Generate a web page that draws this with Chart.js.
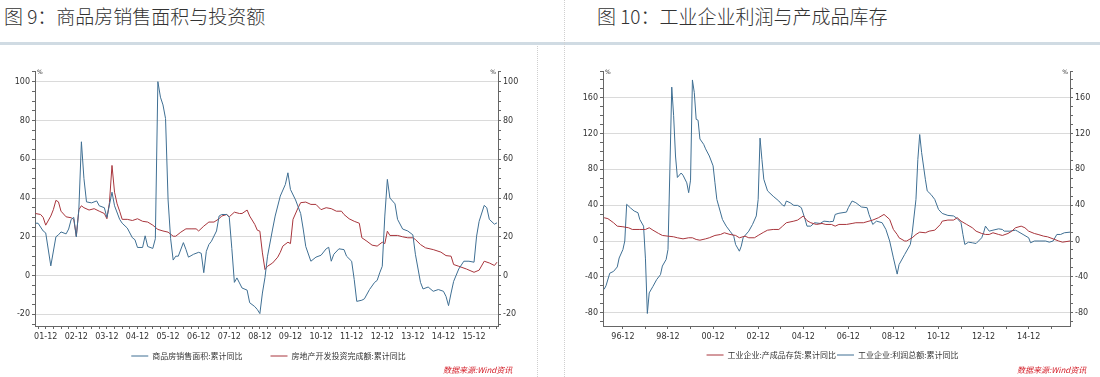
<!DOCTYPE html>
<html>
<head>
<meta charset="utf-8">
<script src="https://cdn.jsdelivr.net/npm/chart.js@4.4.1/dist/chart.umd.min.js"></script>
<style>
body { margin: 0; width: 1100px; height: 377px; background: #fff; position: relative; overflow: hidden; font-family: "Noto Sans CJK SC", sans-serif; }
.title { position: absolute; top: 2px; font-size: 19px; color: #333; font-weight: 300; white-space: nowrap; }
.rule { position: absolute; left: 0; top: 42px; width: 1100px; height: 3px; background: #d0dbe3; }
.dots { position: absolute; width: 0; border-left: 1px dotted #cfcfcf; }
.box { position: absolute; top: 50px; }
.src { position: absolute; top: 364px; font-size: 8px; font-style: italic; color: #d4202a; white-space: nowrap; }
</style>
</head>
<body>
<div class="title" style="left:4px">图 9：商品房销售面积与投资额</div>
<div class="title" style="left:597px">图 10：工业企业利润与产成品库存</div>
<div class="rule"></div>
<div class="dots" style="left:537px;top:46px;height:331px"></div>
<div class="dots" style="left:564px;top:0;height:377px"></div>
<div class="box" style="left:0"><canvas id="chart9" width="537" height="327"></canvas></div>
<div class="box" style="left:565px"><canvas id="chart10" width="535" height="327"></canvas></div>
<div class="src" style="left:443px">数据来源:Wind资讯</div>
<div class="src" style="left:1017px">数据来源:Wind资讯</div>

<script>
// ---------------------------------------------
// Figure 9: months counted from Dec 2001 (0 = 01-12)
// ---------------------------------------------
const salesMonths = [
  -4, -3, -1, 0, 2, 4, 5, 6, 8, 9,
  10, 11, 12, 13, 14, 15, 16, 18, 20, 21,
  23, 24, 26, 27, 29, 30, 32, 34, 35, 36,
  38, 39, 40, 42, 43, 44, 45, 46, 47, 48,
  49, 50, 51, 52, 54, 55, 56, 58, 60, 61,
  62, 63, 64, 65, 67, 68, 69, 71, 72, 73,
  74, 75, 76, 77, 79, 80, 82, 83, 84, 85,
  86, 87, 89, 90, 92, 94, 95, 96, 98, 100,
  101, 102, 104, 106, 108, 110, 111, 112, 113, 115,
  117, 118, 120, 121, 122, 124, 125, 127, 129, 130,
  131, 132, 133, 134, 135, 137, 138, 140, 142, 144,
  145, 147, 148, 150, 152, 154, 156, 157, 158, 159,
  160, 162, 164, 166, 168, 169, 170, 172, 173, 174,
  176, 177
];
const salesValues = [
  27, 27, 23, 22, 5, 20, 21, 22.5, 21.5, 24,
  29, 30, 20, 34, 69, 50, 38, 37.5, 38.5, 36,
  35, 30, 43, 36, 29, 27, 24.5, 19.5, 18.5, 14.5,
  14.5, 20.5, 15, 14, 19, 100, 92, 88, 81, 39,
  19, 8, 10, 10, 17, 13.5, 9.5, 11, 12, 11.5,
  1.5, 12.5, 16, 17.7, 23, 30.7, 31.5, 31.5, 30, 14,
  -3.5, -1.2, -3.8, -6.4, -7.5, -14, -16, -17.5, -19.6, -9,
  -1, 10, 24, 30.7, 41, 47, 53, 44.4, 39, 32,
  24, 15, 7.4, 9.5, 10.5, 13.8, 14.6, 7.4, 11, 13.8,
  13.4, 10, 7.4, -2, -13.3, -12.7, -12, -7.2, -3.5, -2.5,
  1.4, 4.8, 30.7, 49.6, 40, 37, 29, 24, 23, 21,
  11, -3.5, -6.9, -5.9, -8.1, -7.2, -8.1, -10.7, -15.5, -9,
  -3, 3.4, 7.4, 7.4, 6.9, 20.3, 28, 36.2, 35, 29,
  26.5, 27.2
];
const investMonths = [
  -4, -2, -1, 0, 2, 3, 4, 5, 6, 8,
  10, 11, 12, 13, 14, 15, 17, 19, 21, 23,
  24, 25, 26, 27, 28, 29, 30, 32, 34, 36,
  38, 40, 42, 44, 46, 48, 50, 51, 53, 55,
  57, 59, 60, 62, 64, 66, 68, 69, 71, 72,
  74, 76, 77, 79, 80, 82, 83, 84, 85, 86,
  87, 89, 91, 92, 93, 95, 96, 97, 99, 100,
  102, 104, 106, 108, 110, 112, 114, 116, 117, 119,
  121, 123, 124, 126, 128, 130, 132, 133, 134, 135,
  138, 140, 142, 144, 145, 147, 149, 152, 155, 157,
  159, 160, 162, 165, 168, 170, 172, 174, 176, 177
];
const investValues = [
  32, 31.5, 30, 26, 30.7, 34, 38.8, 38, 33.2, 30.3,
  29.8, 29, 20.3, 34, 36, 35, 33.8, 34.5, 33.2, 32,
  29.3, 37.6, 56.8, 43, 37, 33.2, 29, 29, 28.4, 29.3,
  28, 27.6, 26, 23.8, 23, 22.4, 20.3, 20.3, 22.4, 24.1,
  24.1, 24.1, 23, 25.5, 27.6, 27.6, 29.3, 30.7, 31.5, 30.3,
  32.7, 32, 32, 33.8, 30.7, 26.4, 23.4, 22.9, 11.7, 3.1,
  4.8, 6.5, 9.5, 12, 15.2, 17.2, 16.5, 29, 35, 37.6,
  37.9, 36.7, 36.7, 34, 35, 34.5, 33.2, 33.2, 31.5, 29.3,
  28, 27, 19.5, 17.7, 15.7, 15.2, 17.2, 16.5, 22.9, 20.7,
  20.7, 20, 19.5, 19.5, 18.6, 16, 14.3, 13.4, 12.1, 10.3,
  10, 5.7, 4.8, 3.4, 1.7, 2.8, 7.4, 6.5, 5.2, 6.9
];
const fig9YLabels = [-20, 0, 20, 40, 60, 80, 100];

// ---------------------------------------------
// Figure 10: months counted from Dec 1996 (0 = 96-12)
// ---------------------------------------------
const profitMonths = [
  -10, -9, -7, -5, -3, -2, 0, 1, 2, 4,
  6, 8, 9, 11, 12, 13, 14, 16, 18, 20,
  21, 23, 24, 25, 26, 27, 28, 29, 31, 32,
  34, 35, 36, 37, 38, 39, 40, 41, 43, 44,
  46, 48, 49, 50, 51, 53, 55, 57, 59, 60,
  62, 63, 64, 67, 69, 71, 72, 73, 74, 75,
  77, 80, 83, 85, 86, 87, 89, 91, 93, 95,
  97, 98, 100, 102, 105, 107, 110, 112, 113, 115,
  119, 120, 122, 124, 127, 130, 131, 133, 135, 138,
  140, 142, 144, 146, 147, 150, 153, 154, 156, 157,
  158, 159, 161, 162, 164, 166, 168, 170, 173, 176,
  178, 180, 181, 182, 184, 186, 188, 191, 192, 193,
  195, 197, 200, 202, 203, 206, 209, 210, 213, 216,
  217, 219, 222, 225, 227, 229, 231, 233, 235, 238
];
const profitValues = [
  -54, -50, -36, -34, -29, -19, -9.5, 0, 41, 37,
  33.5, 31.6, 24, 16.6, -20, -81, -58, -50.7, -43, -37.6,
  -28, -20.7, -9.5, 80, 172, 140, 95, 71, 76, 73.5,
  65, 54, 68, 180, 166, 136, 135, 114, 108, 103,
  95, 84, 65, 46.5, 39, 24, 16.6, 11, 5.4, -4,
  -11.4, -5.8, 3.6, 11, 18.5, 28, 46.5, 115, 91, 69,
  56, 50, 44.7, 40, 39, 44.7, 42.8, 39.8, 39.8, 37.2,
  24, 16.6, 16.6, 20.4, 19.6, 22.2, 21.5, 22, 29.7, 31,
  32.3, 37.2, 44.7, 42.8, 38, 37.2, 29.7, 18.5, 22.2, 20.4,
  12.9, 0, -18.9, -37, -26.4, -15, -3.9, 9.2, 46.5, 91,
  119, 99, 69, 56, 52, 46.5, 35.3, 30.8, 28.6, 28,
  25, 20.4, 7.3, -3.9, -1.3, -2, -2.8, 3.6, 9.2, 16.6,
  11, 12.1, 13.6, 12.9, 11, 11, 12.1, 11, 7.3, 3.6,
  -2, 0, 0, 0, -1.3, 0, 7.3, 7.3, 9.2, 9.9
];
const stockMonths = [
  -10, -8, -5, -3, 0, 3, 5, 9, 12, 14,
  16, 19, 21, 24, 27, 29, 32, 35, 37, 39,
  41, 44, 46, 49, 52, 54, 57, 60, 62, 65,
  67, 70, 72, 75, 77, 80, 83, 85, 87, 91,
  93, 96, 98, 100, 103, 106, 108, 111, 113, 115,
  119, 122, 124, 128, 131, 133, 136, 139, 140, 142,
  144, 146, 147, 150, 151, 154, 156, 158, 161, 163,
  166, 169, 170, 173, 176, 178, 180, 183, 186, 188,
  191, 193, 195, 197, 200, 202, 205, 207, 209, 212,
  214, 216, 219, 221, 224, 226, 229, 232, 234, 238
];
const stockValues = [
  26, 25, 20.4, 16.6, 15.9, 14.8, 12.9, 12.9, 12.9, 14.8,
  12.1, 8.4, 6.2, 5.4, 4.7, 3.6, 2.4, 3.6, 3.6, 1.7,
  0.9, 2.4, 3.6, 6.2, 7.3, 9.2, 7.3, 6.2, 3.6, 5.4,
  3.6, 3.6, 6.2, 9.9, 12.1, 12.9, 12.9, 16.6, 20.4, 22.2,
  23.4, 27.9, 22.8, 20.4, 18.5, 19.6, 18.5, 18.5, 16.6, 18.5,
  18.5, 19.6, 20.4, 20.4, 22.2, 23.4, 26, 29.7, 27.9, 24.1,
  12.9, 7.3, 3.6, 0, 0, 3.6, 7.3, 9.9, 9.2, 11,
  12.1, 18.5, 22.2, 23.4, 23.4, 26, 22.2, 18.5, 14.8, 11,
  8.4, 7.3, 7.3, 9.2, 7.3, 6.2, 8.4, 11, 14.8, 16.6,
  14.8, 11, 8.4, 7.3, 5.4, 4.7, 2.4, 0, -1.3, 0
];
const fig10YLabels = [-80, -40, 0, 40, 80, 120, 160];

const BLUE = '#3f6f93';
const RED = '#a8353c';
const AXIS = '#666';
const GRID = '#dadada';
const tickFont = { family: '"DejaVu Sans"', size: 8 };
const cjkFont = { family: '"Noto Sans CJK SC"', size: 8 };

function toPoints(months, values) {
  return months.map((m, i) => ({ x: m, y: values[i] }));
}

// '01-12' style label for an offset in months from a base year/month
function ym(baseYear, baseMonth, offset) {
  const t = baseYear * 12 + baseMonth - 1 + offset;
  const y = Math.floor(t / 12), m = t % 12 + 1;
  return String(y % 100).padStart(2, '0') + '-' + String(m).padStart(2, '0');
}

function range(from, to, step) {
  const out = [];
  for (let v = from; v <= to; v += step) out.push(v);
  return out;
}

// small % mark on top of both value axes
const unitMark = {
  id: 'unitMark',
  afterDraw(chart) {
    const { ctx, chartArea: a } = chart;
    ctx.save();
    ctx.fillStyle = '#333';
    ctx.font = '6px "DejaVu Sans"';
    ctx.textBaseline = 'middle';
    ctx.textAlign = 'left';
    ctx.fillText('%', a.left + 2, a.top + 1);
    ctx.textAlign = 'right';
    ctx.fillText('%', a.right - 2, a.top + 1);
    ctx.restore();
  }
};

function makeChart(id, c) {
  const yAxis = (pos, width) => ({
    type: 'linear',
    position: pos,
    min: c.yMin,
    max: c.yMax,
    afterBuildTicks: sc => { sc.ticks = c.yTicks.map(v => ({ value: v })); },
    afterFit: sc => { sc.width = width; },
    border: { color: AXIS },
    grid: {
      drawOnChartArea: pos === 'left',
      color: ctx => c.yLabels.includes(ctx.tick.value) ? GRID : 'rgba(0,0,0,0)',
      tickColor: AXIS,
      tickLength: 3
    },
    ticks: {
      autoSkip: false,
      padding: 2,
      color: '#333',
      font: tickFont,
      callback: v => c.yLabels.includes(v) ? String(v) : ''
    }
  });

  return new Chart(document.getElementById(id), {
    type: 'line',
    data: {
      datasets: c.series.map(s => ({
        label: s.label,
        data: toPoints(s.months, s.values),
        borderColor: s.color,
        backgroundColor: s.color,
        borderWidth: 1,
        pointRadius: 0,
        pointStyle: 'line',
        tension: 0
      }))
    },
    options: {
      responsive: false,
      animation: false,
      layout: { padding: { left: 0, right: 0, top: 21, bottom: c.bottomPad } },
      scales: {
        x: {
          type: 'linear',
          min: c.xMin,
          max: c.xMax,
          afterBuildTicks: sc => { sc.ticks = c.xTicks.map(v => ({ value: v })); },
          afterFit: sc => { sc.height = c.xAxisHeight; },
          border: { color: AXIS },
          grid: { drawOnChartArea: false, tickColor: AXIS, tickLength: 3 },
          ticks: {
            autoSkip: false,
            maxRotation: 0,
            padding: 3,
            color: '#333',
            font: tickFont,
            callback: v => v % c.labelEvery === 0 ? ym(c.baseYear, 12, v) : ''
          }
        },
        y: yAxis('left', c.leftWidth),
        y2: yAxis('right', c.rightWidth)
      },
      plugins: {
        tooltip: { enabled: false },
        legend: {
          position: 'bottom',
          maxHeight: 16,
          labels: {
            usePointStyle: true,
            pointStyle: 'line',
            pointStyleWidth: 17,
            boxHeight: 8,
            padding: c.legendPad,
            color: '#333',
            font: cjkFont,
            // extra room after every item but the last
            generateLabels: chart => Chart.defaults.plugins.legend.labels.generateLabels(chart)
              .map((item, i, all) => i < all.length - 1 ? Object.assign(item, { text: item.text + c.legendSpacer }) : item)
          }
        }
      }
    },
    plugins: [unitMark]
  });
}

makeChart('chart9', {
  series: [
    { label: '商品房销售面积:累计同比', months: salesMonths, values: salesValues, color: BLUE },
    { label: '房地产开发投资完成额:累计同比', months: investMonths, values: investValues, color: RED }
  ],
  baseYear: 2001,
  xMin: -4.2, xMax: 177.4,
  xTicks: range(-3, 177, 3),
  labelEvery: 12,
  yMin: -26, yMax: 105.5,
  yTicks: range(-25, 105, 5),
  yLabels: fig9YLabels,
  leftWidth: 35, rightWidth: 39,
  xAxisHeight: 22, bottomPad: 13,
  legendPad: 4, legendSpacer: '\u3000\u3000\u3000'
});

makeChart('chart10', {
  series: [
    { label: '工业企业:产成品存货:累计同比', months: stockMonths, values: stockValues, color: RED },
    { label: '工业企业:利润总额:累计同比', months: profitMonths, values: profitValues, color: BLUE }
  ],
  baseYear: 1996,
  xMin: -10.6, xMax: 238,
  xTicks: range(0, 228, 12),
  labelEvery: 24,
  yMin: -95, yMax: 190,
  yTicks: range(-90, 190, 10),
  yLabels: fig10YLabels,
  leftWidth: 38, rightWidth: 30,
  xAxisHeight: 24, bottomPad: 11,
  legendPad: 1, legendSpacer: ''
});
</script>
</body>
</html>
